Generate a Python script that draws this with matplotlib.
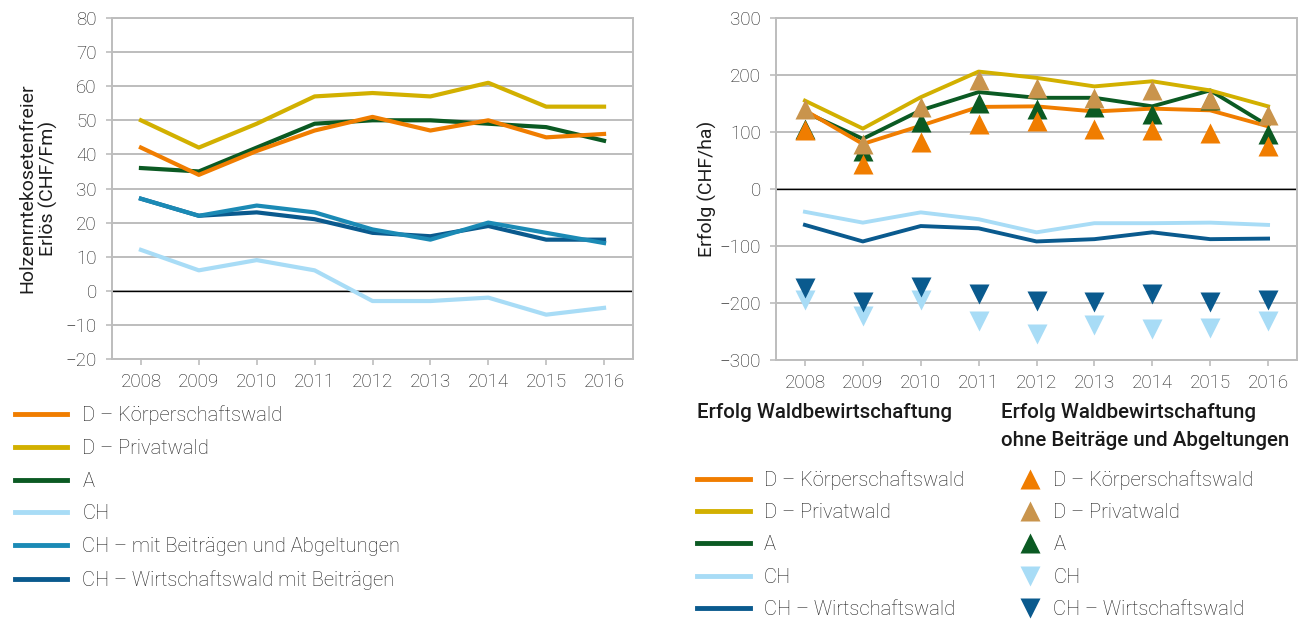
import matplotlib.pyplot as plt
from matplotlib.lines import Line2D

plt.rcParams['font.family'] = ['Roboto', 'DejaVu Sans']
plt.rcParams['font.weight'] = 'light'

years = ["2008", "2009", "2010", "2011", "2012", "2013", "2014", "2015", "2016"]

# left chart: Holzerntekostenfreier Erlös (CHF/Fm)
left_names = ["D – Körperschaftswald", "D – Privatwald", "A", "CH",
              "CH – mit Beiträgen und Abgeltungen", "CH – Wirtschaftswald mit Beiträgen"]
d_koerp = [42, 34, 41, 47, 51, 47, 50, 45, 46]
d_priv = [50, 42, 49, 57, 58, 57, 61, 54, 54]
a_erl = [36, 35, 42, 49, 50, 50, 49, 48, 44]
ch_erl = [12, 6, 9, 6, -3, -3, -2, -7, -5]
ch_beitr = [27, 22, 25, 23, 18, 15, 20, 17, 14]
ch_wirt = [27, 22, 23, 21, 17, 16, 19, 15, 15]

# right chart: Erfolg (CHF/ha), lines = mit Beiträgen, triangles = ohne
right_names = ["D – Körperschaftswald", "D – Privatwald", "A", "CH", "CH – Wirtschaftswald"]
erf_koerp = [138, 79, 111, 144, 145, 136, 141, 138, 110]
erf_priv = [155, 106, 161, 206, 195, 180, 189, 173, 145]
erf_a = [135, 88, 138, 170, 160, 160, 145, 173, 111]
erf_ch = [-40, -59, -41, -53, -76, -60, -60, -59, -63]
erf_wirt = [-63, -92, -65, -69, -92, -88, -76, -88, -87]

ohne_koerp = [103, 44, 82, 114, 120, 106, 103, 98, 75]
ohne_priv = [141, 79, 144, 191, 178, 160, 174, 158, 129]
ohne_a = [105, 66, 117, 150, 141, 143, 131, 157, 97]
ohne_ch = [-194, -223, -194, -232, -255, -238, -246, -243, -232]
ohne_wirt = [-174, -199, -172, -185, -196, -199, -185, -199, -194]

c_orange = "#F07D00"
c_gold = "#D2B000"
c_green = "#0B5A23"
c_light = "#A8DCF6"
c_teal = "#1B8AB5"
c_dark = "#0A5A8E"
c_tan = "#C9944C"
c_grid = "#BDBDBD"
c_text = "#1E1E1E"

W, H = 1308, 619
fig = plt.figure(figsize=(W / 100, H / 100), dpi=100)


def px_axes(x0, y0, x1, y1):
    return fig.add_axes([x0 / W, 1 - y1 / H, (x1 - x0) / W, (y1 - y0) / H])


def style(ax, ylim, step):
    ax.set_xlim(-0.5, len(years) - 0.5)
    ax.set_ylim(*ylim)
    ax.set_xticks(range(len(years)))
    ax.set_xticklabels(years)
    ax.set_yticks(range(ylim[0], ylim[1] + 1, step))
    ax.yaxis.grid(True, color=c_grid, lw=1.4)
    ax.set_axisbelow(True)
    for s in ax.spines.values():
        s.set_color(c_grid)
        s.set_linewidth(1.4)
    ax.tick_params(axis="x", length=4, color=c_grid, width=1.2, labelsize=13.5,
                   labelcolor=c_text, pad=6)
    ax.tick_params(axis="y", length=4, color=c_grid, width=1.2, labelsize=13.5,
                   labelcolor=c_text, pad=7)
    ax.axhline(0, color="black", lw=1, zorder=2)


x = list(range(len(years)))

# left chart
ax1 = px_axes(112, 18, 633, 359)
style(ax1, (-20, 80), 10)
left_series = [d_koerp, d_priv, a_erl, ch_erl, ch_beitr, ch_wirt]
left_colors = [c_orange, c_gold, c_green, c_light, c_teal, c_dark]
for i in [3, 5, 4, 2, 1, 0]:
    ax1.plot(x, left_series[i], color=left_colors[i], lw=3, zorder=3)
ax1.set_ylabel("Holzenrntekosetenfreier\nErlös (CHF/Fm)", fontsize=14,
               color=c_text, linespacing=1.15)
ax1.yaxis.set_label_coords(-0.142, 0.5)
ax1.yaxis.label.set_va("center")

# right chart
ax2 = px_axes(776, 18, 1297, 360)
style(ax2, (-300, 300), 100)
right_lines = [erf_koerp, erf_priv, erf_a, erf_ch, erf_wirt]
right_colors = [c_orange, c_gold, c_green, c_light, c_dark]
for i in [3, 4, 2, 0, 1]:
    ax2.plot(x, right_lines[i], color=right_colors[i], lw=2.8, zorder=3)

tri_series = [ohne_koerp, ohne_priv, ohne_a, ohne_ch, ohne_wirt]
tri_colors = [c_orange, c_tan, c_green, c_light, c_dark]
tri_marks = ["^", "^", "^", "v", "v"]
for i in [2, 1, 0, 3, 4]:
    ax2.plot(x, tri_series[i], ls="none", marker=tri_marks[i], ms=14,
             color=tri_colors[i], mec="none", zorder=4)
ax2.set_ylabel("Erfolg (CHF/ha)", fontsize=14, color=c_text)
ax2.yaxis.set_label_coords(-0.132, 0.5)
ax2.yaxis.label.set_va("center")


def legend_at(handles, labels, px, py, hl, pad, ls):
    leg = fig.legend(handles, labels, loc="upper left",
                     bbox_to_anchor=(px / W, 1 - py / H), frameon=False,
                     fontsize=14.5, labelspacing=ls, handlelength=hl,
                     handletextpad=pad, borderpad=0, borderaxespad=0)
    for t in leg.get_texts():
        t.set_color(c_text)
    return leg


left_handles = [Line2D([], [], color=c, lw=3.5) for c in left_colors]
legend_at(left_handles, left_names, 15, 405, 2.6, 0.75, 0.69)

right_handles = [Line2D([], [], color=c, lw=3.5) for c in right_colors]
legend_at(right_handles, right_names, 697, 470, 2.64, 0.68, 0.66)

tri_handles = [Line2D([], [], ls="none", marker=m, ms=14, color=c, mec="none")
               for m, c in zip(tri_marks, tri_colors)]
legend_at(tri_handles, right_names, 1018, 470, 1.2, 0.55, 0.66)

title_kw = dict(fontsize=14.8, fontweight="medium", color="#1A1A1A", va="center")
fig.text(697 / W, 1 - 413 / H, "Erfolg Waldbewirtschaftung", **title_kw)
fig.text(1001 / W, 1 - 413 / H, "Erfolg Waldbewirtschaftung", **title_kw)
fig.text(1001 / W, 1 - 441 / H, "ohne Beiträge und Abgeltungen", **title_kw)

fig.savefig("out.png", dpi=100)
